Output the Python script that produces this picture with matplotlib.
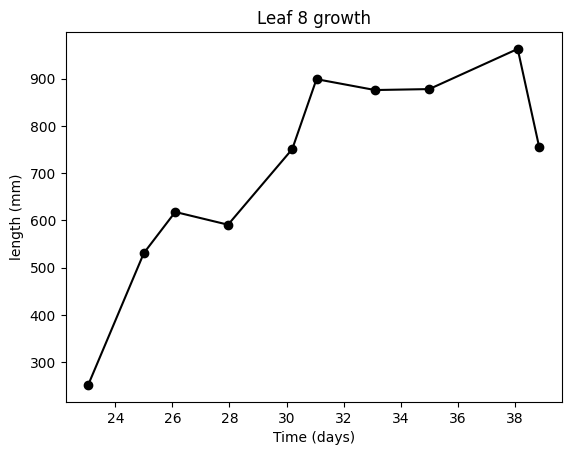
import matplotlib
matplotlib.use("Agg")
import matplotlib.pyplot as plt

days = [23.05, 25.0, 26.1, 27.95, 30.2, 31.05, 33.1, 35.0, 38.1, 38.85]
length_mm = [252, 531, 618, 591, 751, 899, 876, 878, 963, 756]

fig, ax = plt.subplots(figsize=(6.4, 4.8), dpi=100)
ax.plot(days, length_mm, "ko-")
ax.set_title("Leaf 8 growth")
ax.set_xlabel("Time (days)")
ax.set_ylabel("length (mm)")
fig.savefig("out.png", bbox_inches="tight")
